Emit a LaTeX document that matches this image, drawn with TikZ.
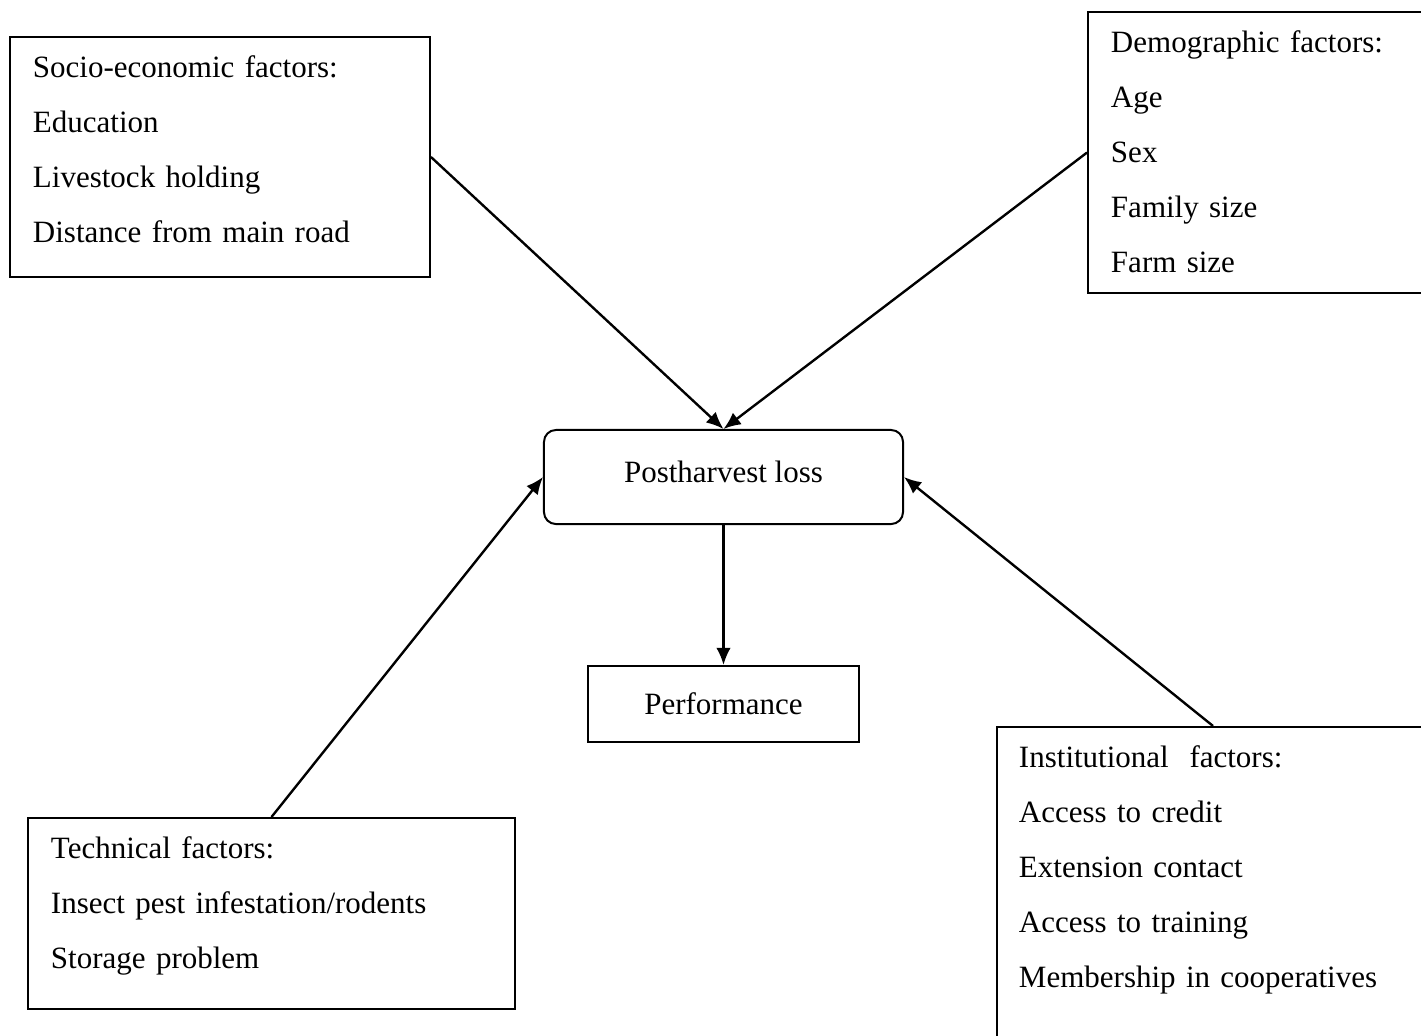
\documentclass[tikz,border=0pt]{standalone}
\usepackage{fontspec}
\setmainfont{Liberation Serif}
\usetikzlibrary{arrows.meta}

\begin{document}
\begin{tikzpicture}[x=0.3774pt, y=-0.3774pt, line width=0.75pt,
    factortext/.style={anchor=base west, inner sep=0pt, text width=200pt, align=left,
      font=\fontsize{11.7}{20.8}\selectfont}]
              \useasboundingbox (0,0) rectangle (1421,1035);
              \clip (0,0) rectangle (1421,1035);
              \begin{scope}[every node/.style={draw=black, rectangle, inner sep=0pt}]
                \node[minimum width=158.5pt, minimum height=90.6pt] (soc) at (220,157) {};
                \node[minimum width=132.8pt, minimum height=106.1pt] (dem) at (1264,152.5) {};
                \node[minimum width=183.8pt, minimum height=72.1pt] (tec) at (271.5,913.5) {};
                \node[minimum width=163pt, minimum height=125.7pt] (ins) at (1213,893.5) {};
                \node[rounded corners=4.5pt, minimum width=135.5pt, minimum height=35.5pt,
                  text height=8pt, text depth=4pt, font=\fontsize{11.7}{14}\selectfont] (phl) at (723.5,477) {Postharvest loss};
                \node[minimum width=102.3pt, minimum height=28.7pt,
                  font=\fontsize{11.7}{14}\selectfont] (perf) at (723.5,704) {Performance};
              \end{scope}
              \node[factortext] (soctext) at (32,77) {Socio-economic factors:\\ Education\\ Livestock holding\\ Distance from main road};
              \node[factortext] (demtext) at (1110,52) {Demographic factors:\\ Age\\ Sex\\ Family size\\ Farm size};
              \node[factortext] (tectext) at (50,858) {Technical factors:\\ Insect pest infestation/rodents\\ Storage problem};
              \node[factortext] (instext) at (1018,767) {Institutional\ \ factors:\\ Access to credit\\ Extension contact\\ Access to training\\ Membership in cooperatives};
              \begin{scope}[every edge/.style={draw=black, line width=0.9pt, -{Latex[length=6.5pt, width=5.5pt]}}]
                \path (soc.east) edge (phl.north);
                \path (dem.west) edge (phl.north);
                \path (tec.north) edge (phl.west);
                \path (ins.north) edge (phl.east);
                \path (phl.south) edge (perf.north);
              \end{scope}
            \end{tikzpicture}
\end{document}
